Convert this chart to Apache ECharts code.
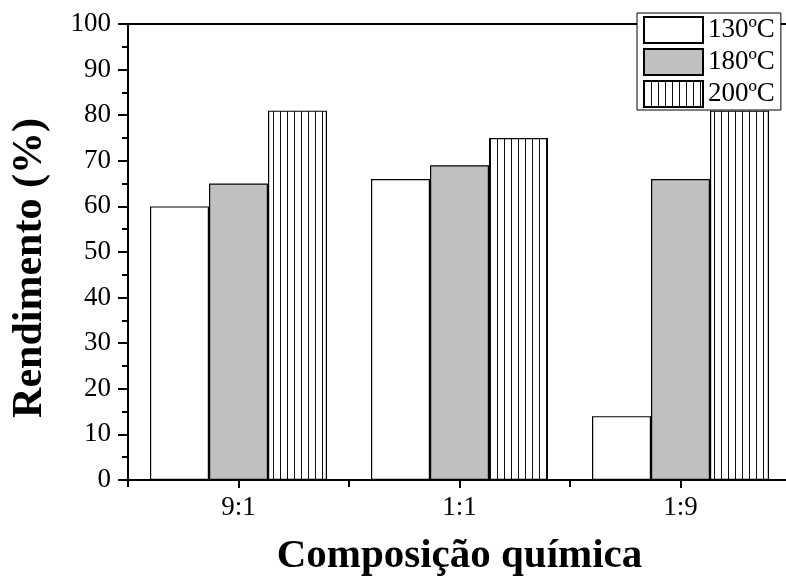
<!DOCTYPE html>
<html>
<head>
<meta charset="utf-8">
<script src="https://cdn.jsdelivr.net/npm/echarts@6/dist/echarts.min.js"></script>
<style>
  html, body { margin: 0; padding: 0; background: #fff; }
  #chart { width: 786px; height: 580px; }
</style>
</head>
<body>
<div id="chart"></div>
<script>
// Rendimento por composição química e temperatura
var categories = ['9:1', '1:1', '1:9'];
var seriesNames = ['130ºC', '180ºC', '200ºC'];
var values130 = [60, 66, 14];
var values180 = [65, 69, 66];
var values200 = [81, 75, 81];
var yTicks = { min: 0, max: 100, interval: 10 };
var xTitle = 'Composição química';
var yTitle = 'Rendimento (%)';

var FONT = '"Liberation Serif", "DejaVu Serif", serif';

// vertical-line hatch for the 200ºC bars
function hatchPattern() {
  var c = document.createElement('canvas');
  c.width = 7; c.height = 8;
  var g = c.getContext('2d');
  g.fillStyle = '#fff';
  g.fillRect(0, 0, 7, 8);
  g.fillStyle = '#111';
  g.fillRect(0, 0, 1, 8);
  return c;
}

var chart = echarts.init(document.getElementById('chart'), null, { renderer: 'canvas' });

var fills = ['#ffffff', '#c0c0c0', { image: hatchPattern(), repeat: 'repeat' }];
var data = [values130, values180, values200];

var series = seriesNames.map(function (name, i) {
  return {
    name: name,
    type: 'bar',
    data: data[i],
    barWidth: 59,
    barGap: '0%',
    itemStyle: { color: fills[i], borderColor: '#000', borderWidth: 1.2 },
    emphasis: { disabled: true }
  };
});

chart.setOption({
  animation: false,
  backgroundColor: '#fff',
  grid: {
    left: 128, top: 24, width: 663, height: 456,
    containLabel: false,
    outerBoundsMode: 'none',
    show: true, borderColor: '#000', borderWidth: 2, backgroundColor: 'transparent'
  },
  legend: {
    orient: 'vertical',
    left: 637, top: 13,
    itemWidth: 59, itemHeight: 26, itemGap: 4,
    padding: [3, 6, 2, 6],
    backgroundColor: '#fff',
    borderColor: '#000', borderWidth: 1,
    borderRadius: 0,
    icon: 'rect',
    textStyle: { fontFamily: FONT, fontSize: 27, color: '#000', padding: [0, 0, 0, 0] },
    data: seriesNames
  },
  graphic: [{
    type: 'text',
    x: 30, y: 268,
    rotation: Math.PI / 2,
    style: {
      text: yTitle,
      fontFamily: FONT, fontSize: 42, fontWeight: 'bold', fill: '#000',
      align: 'center', verticalAlign: 'middle'
    }
  }],
  xAxis: [{
    type: 'category',
    data: categories,
    position: 'bottom',
    axisLine: { show: true, lineStyle: { color: '#000', width: 2 } },
    axisTick: { show: true, inside: false, length: 7, lineStyle: { color: '#000', width: 2 } },
    axisLabel: { fontFamily: FONT, fontSize: 27, color: '#000', margin: 14 },
    splitLine: { show: false },
    name: xTitle,
    nameLocation: 'middle',
    nameGap: 56,
    nameTextStyle: { fontFamily: FONT, fontSize: 41, fontWeight: 'bold', color: '#000' }
  }, {
    type: 'category',
    data: categories,
    position: 'bottom',
    axisLine: { show: false },
    axisTick: { show: true, alignWithLabel: true, length: 8, lineStyle: { color: '#000', width: 2 } },
    axisLabel: { show: false },
    splitLine: { show: false }
  }],
  yAxis: {
    type: 'value',
    min: yTicks.min, max: yTicks.max, interval: yTicks.interval,
    axisLine: { show: true, lineStyle: { color: '#000', width: 2 } },
    axisTick: { show: true, length: 10, lineStyle: { color: '#000', width: 2 } },
    minorTick: { show: true, splitNumber: 2, length: 6, lineStyle: { color: '#000', width: 2 } },
    axisLabel: { fontFamily: FONT, fontSize: 27, color: '#000', margin: 17 },
    splitLine: { show: false }
  },
  series: series
});
</script>
</body>
</html>
